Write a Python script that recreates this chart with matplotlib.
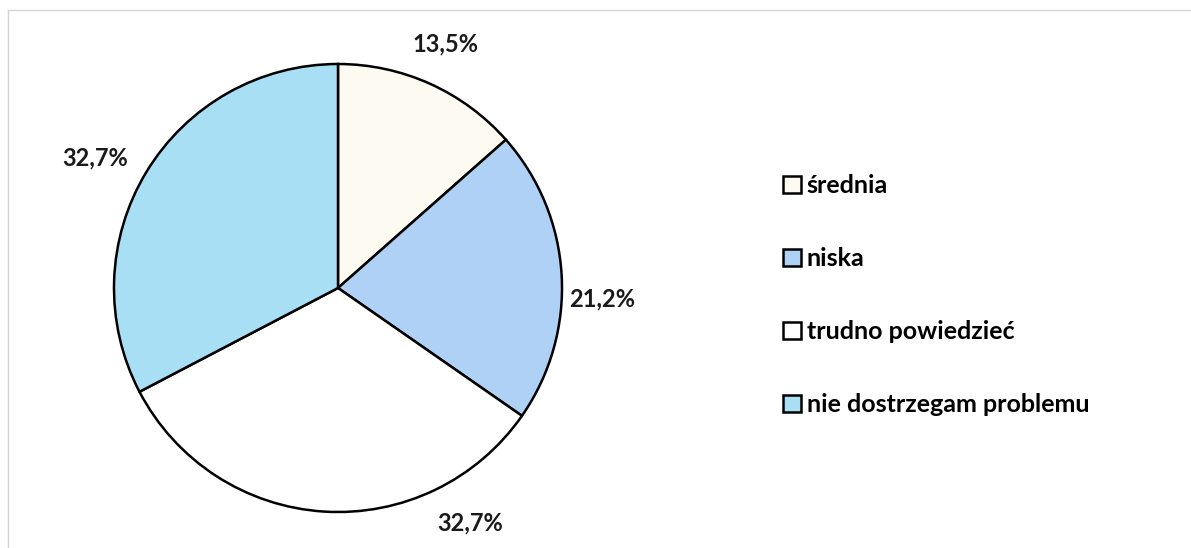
import matplotlib.pyplot as plt
from matplotlib.lines import Line2D

plt.rcParams["font.family"] = ["Lato", "DejaVu Sans"]

categories = ["średnia", "niska", "trudno powiedzieć", "nie dostrzegam problemu"]
values = [13.5, 21.2, 32.7, 32.7]
colors = ["#fdfbf1", "#b0d1f6", "#ffffff", "#a9dff4"]
# label spots in pie units (Excel "best fit" placement)
label_pos = [(0.48, 1.09), (1.18, -0.05), (0.59, -1.05), (-1.085, 0.58)]

W, H = 1191, 548
fig = plt.figure(figsize=(W / 100, H / 100), dpi=100)

cx, cy, r = 338, 288, 224
ax = fig.add_axes([(cx - r) / W, (H - cy - r) / H, 2 * r / W, 2 * r / H])
wedges, _ = ax.pie(
    values,
    colors=colors,
    startangle=90,
    counterclock=False,
    radius=1,
    wedgeprops=dict(edgecolor="black", linewidth=1.8),
)
ax.set_xlim(-1, 1)
ax.set_ylim(-1, 1)
ax.set_aspect("equal")
ax.axis("off")

for v, (x, y) in zip(values, label_pos):
    ax.text(x, y, f"{v:.1f}%".replace(".", ","), ha="center", va="center",
            fontsize=17, fontweight="bold", color="#1a1a1a", clip_on=False)

fig.legend(
    wedges,
    categories,
    loc="center left",
    bbox_to_anchor=(783 / W, 1 - 295 / H),
    frameon=False,
    prop=dict(weight="bold", size=18),
    handlelength=0.7,
    handleheight=0.7,
    handletextpad=0.25,
    labelspacing=2.0,
    borderpad=0,
    borderaxespad=0,
)

# scanned chart frame (only top and left edges visible)
fig.add_artist(Line2D([8 / W, 1], [1 - 10 / H, 1 - 10 / H], color="#d4d4d4", lw=1))
fig.add_artist(Line2D([8 / W, 8 / W], [0, 1 - 10 / H], color="#d4d4d4", lw=1))

fig.savefig("out.png", dpi=100, facecolor="white")
